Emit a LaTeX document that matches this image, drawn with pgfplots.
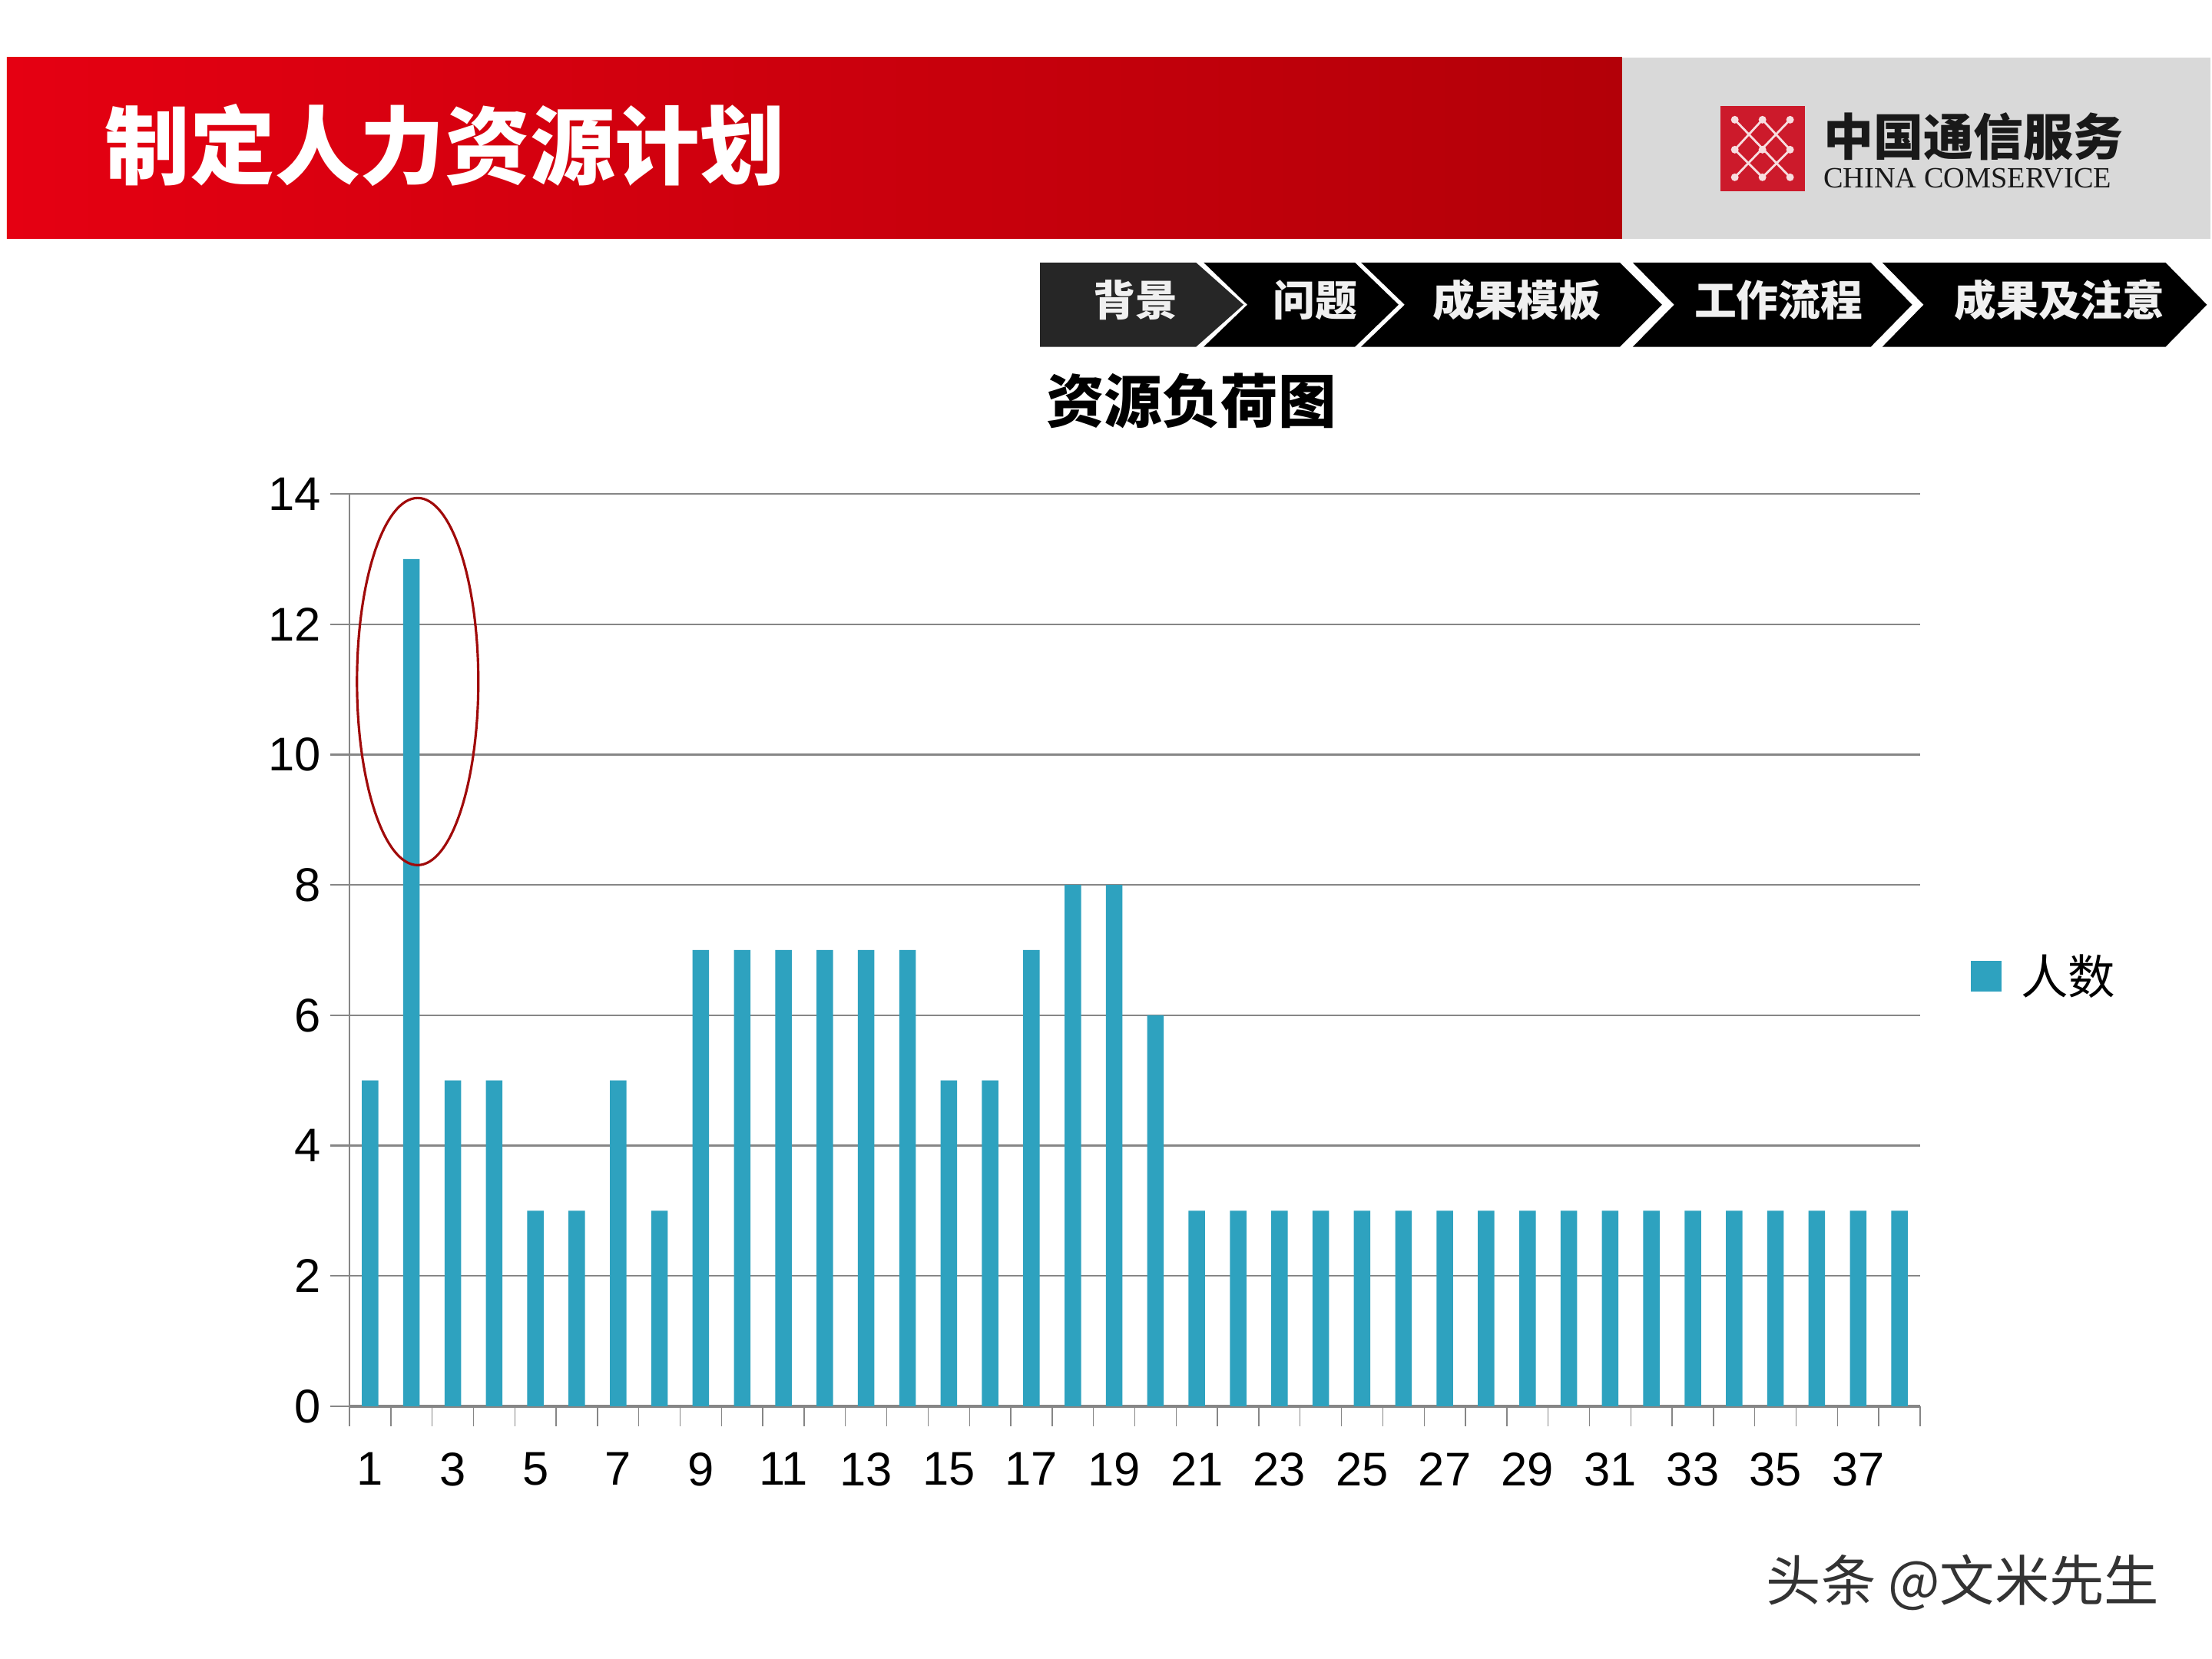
\documentclass[border=0pt]{standalone}
\usepackage{fontspec}
\setmainfont{Liberation Sans}
\newfontfamily\cjk{Noto Sans CJK SC}
\newfontfamily\serif{Liberation Serif}
\usepackage{pgfplots}
\pgfplotsset{compat=1.18}
\definecolor{barc}{HTML}{2EA2BF}
\definecolor{gridgray}{HTML}{868686}
\definecolor{hdrL}{HTML}{E50012}
\definecolor{hdrR}{HTML}{B30008}
\definecolor{hdrgray}{HTML}{D9D9D9}
\definecolor{logored}{HTML}{CC1A2B}
\definecolor{chevA}{HTML}{262626}
\definecolor{ellred}{HTML}{A00A0A}
\begin{document}
\begin{tikzpicture}
\useasboundingbox (0,0) rectangle (28.8,21.6);
\fill[white] (0,0) rectangle (28.8,21.6);
\begin{scope}[x=0.01cm,y=-0.01cm,shift={(0cm,21.6cm)}]
% header
\shade[left color=hdrL, right color=hdrR] (9,75) rectangle (2113,311);
\fill[hdrgray] (2113,75) rectangle (2880,311);
\node[anchor=west, inner sep=0pt, text=white, font=\cjk\bfseries\fontsize{31.5}{36}\selectfont] at (136,189) {制定人力资源计划};
% logo
\fill[logored] (2241,138) rectangle (2351,249);
\begin{scope}[draw=white!85!logored, line width=0.8pt]
\draw (2260,156) -- (2332,231);
\draw (2296,156) -- (2332,195);
\draw (2260,195) -- (2296,231);
\draw (2332,156) -- (2260,231);
\draw (2296,156) -- (2260,195);
\draw (2332,195) -- (2296,231);
\end{scope}
\foreach \xx in {2260,2296,2332}{
  \foreach \yy in {156,195,231}{
    \fill[white!85!logored] (\xx,\yy) circle (5);
  }
}
\node[anchor=west, inner sep=0pt, font=\cjk\bfseries\fontsize{18.5}{20}\selectfont, text=black!90] at (2375,178) {中国通信服务};
\node[anchor=west, inner sep=0pt, font=\serif\fontsize{10.9}{12}\selectfont, text=black!90] at (2375,232) {CHINA COMSERVICE};
% chevrons
\fill[chevA] (1355,342) -- (1558,342) -- (1620,397) -- (1558,452) -- (1355,452) -- cycle;
\fill[black] (1568,342) -- (1765,342) -- (1822,397) -- (1765,452) -- (1568,452) -- (1625,397) -- cycle;
\fill[black] (1773,342) -- (2110,342) -- (2165,397) -- (2110,452) -- (1773,452) -- (1830,397) -- cycle;
\fill[black] (2127,342) -- (2437,342) -- (2491,397) -- (2437,452) -- (2127,452) -- (2181,397) -- cycle;
\fill[black] (2452,342) -- (2821,342) -- (2875,397) -- (2821,452) -- (2452,452) -- (2506,397) -- cycle;
\begin{scope}[every node/.style={text=black!6, font=\cjk\bfseries\fontsize{15.6}{18}\selectfont}]
\node at (1479,391) {背景};
\node at (1713,391) {问题};
\node at (1976,391) {成果模板};
\node at (2317,391) {工作流程};
\node at (2683,391) {成果及注意};
\end{scope}
% chart title
\node[font=\cjk\bfseries\fontsize{21.5}{24}\selectfont] at (1552,522) {资源负荷图};
% watermark
\node[font=\cjk\fontsize{20.3}{24}\selectfont, text=black!80] at (2557,2062) {头条 @文米先生};
\end{scope}

\begin{axis}[
  at={(4.55cm,3.29cm)}, anchor=south west,
  scale only axis, width=20.45cm, height=11.88cm,
  xmin=0.5, xmax=38.5, ymin=0, ymax=14,
  enlargelimits=false, clip=false,
  axis x line*=bottom, axis y line*=left,
  axis line style={draw=gridgray, line width=0.65pt},
  x axis line style={line width=0.9pt},
  ytick={0,2,...,14},
  ymajorgrids, grid style={draw=gridgray, line width=0.65pt},
  xtick={1,3,...,37},
  minor xtick={0.5,1.5,...,38.5},
  tick align=outside,
  major tick length=0.25cm, minor tick length=0.26cm,
  major x tick style={draw=none},
  minor x tick style={draw=gridgray, line width=0.4pt},
  y tick style={draw=gridgray, line width=0.65pt},
  tick label style={font=\fontsize{17.5}{20}\selectfont},
  /pgf/number format/assume math mode=true,
  xticklabel style={yshift=-0.23cm},
  legend style={at={(1.032,0.471)}, anchor=west, draw=none, fill=none,
    inner sep=0pt, font=\cjk\fontsize{17.5}{20}\selectfont},
]
\addplot[ybar, bar width=0.215cm, fill=barc, draw=none,
  legend image code/.code={\fill[barc] (0cm,-0.2cm) rectangle (0.4cm,0.2cm); \path (0.58cm,0cm);}]
coordinates {
(1,5) (2,13) (3,5) (4,5) (5,3) (6,3) (7,5) (8,3) (9,7) (10,7)
(11,7) (12,7) (13,7) (14,7) (15,5) (16,5) (17,7) (18,8) (19,8) (20,6)
(21,3) (22,3) (23,3) (24,3) (25,3) (26,3) (27,3) (28,3) (29,3) (30,3)
(31,3) (32,3) (33,3) (34,3) (35,3) (36,3) (37,3) (38,3)
};
\addlegendentry{人数}
\draw[ellred, line width=0.9pt] (axis cs:2.15,11.12) ellipse [x radius=0.79cm, y radius=2.39cm];
\end{axis}
\end{tikzpicture}
\end{document}
